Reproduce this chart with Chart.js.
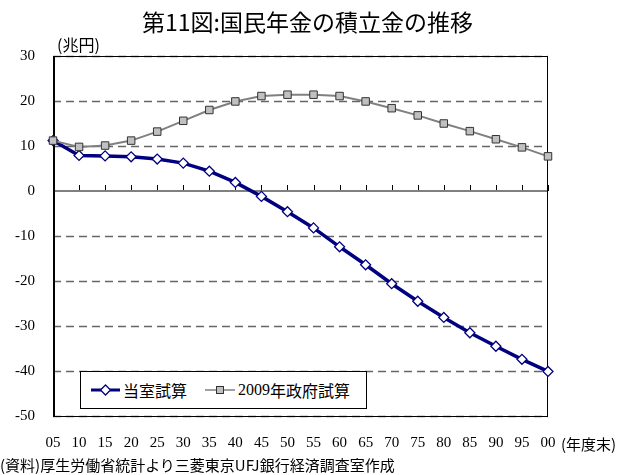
<!DOCTYPE html>
<html>
<head>
<meta charset="utf-8">
<script src="https://cdn.jsdelivr.net/npm/chart.js@4.4.0/dist/chart.umd.min.js"></script>
<style>
body { margin: 0; background: #fff; }
#wrap { position: relative; width: 629px; height: 475px; font-family: "Noto Sans CJK JP", sans-serif; color: #000; }
#title { position: absolute; left: 0; width: 615px; top: 10px; text-align: center; font-size: 23px; line-height: 1; }
#unit { position: absolute; left: 57px; top: 36px; font-size: 16px; line-height: 1; }
#xunit { position: absolute; left: 561px; top: 436px; font-size: 15px; line-height: 1; }
#source { position: absolute; left: 0; top: 457px; font-size: 15px; line-height: 1; }
#legend { position: absolute; left: 80px; top: 371px; width: 285px; height: 36px; border: 1px solid #000; background: #fff;
  display: flex; align-items: center; font-size: 16px; }
#legend span { display: flex; align-items: center; }
#legend svg { margin-right: 3px; }
.num { font-family: "Liberation Serif", Tinos, "Times New Roman", serif; }
</style>
</head>
<body>
<div id="wrap">
  <canvas id="chart" width="629" height="475"></canvas>
  <div id="title">第11図:国民年金の積立金の推移</div>
  <div id="unit">(兆円)</div>
  <div id="xunit">(年度末)</div>
  <div id="source">(資料)厚生労働省統計より三菱東京UFJ銀行経済調査室作成</div>
  <div id="legend">
    <span style="margin-left:10px"><svg width="29" height="12"><line x1="0" y1="6" x2="29" y2="6" stroke="#000080" stroke-width="3"/><polygon points="14.5,1 19.5,6 14.5,11 9.5,6" fill="#fff" stroke="#000080" stroke-width="1.3"/></svg>当室試算</span>
    <span style="margin-left:18px"><svg width="30" height="12"><line x1="0" y1="6" x2="30" y2="6" stroke="#808080" stroke-width="1.5"/><rect x="11.5" y="2.5" width="7" height="7" fill="#c0c0c0" stroke="#333" stroke-width="1"/></svg><span class="num">2009</span>年政府試算</span>
  </div>
</div>
<script>
const years = ['05', '10', '15', '20', '25', '30', '35', '40', '45', '50', '55', '60', '65', '70', '75', '80', '85', '90', '95', '00'];
const toushitsu = [11.2, 7.9, 7.8, 7.6, 7.1, 6.2, 4.4, 1.9, -1.2, -4.6, -8.2, -12.4, -16.4, -20.6, -24.5, -28.1, -31.5, -34.5, -37.4, -40.1];
const seifu2009 = [11.2, 9.8, 10.1, 11.2, 13.2, 15.6, 18.0, 19.9, 21.1, 21.4, 21.4, 21.1, 19.9, 18.4, 16.8, 15.0, 13.3, 11.5, 9.7, 7.7];
const yTicks = [30, 20, 10, 0, -10, -20, -30, -40, -50];

const serif = "'Liberation Serif', Tinos, 'Times New Roman', serif";

// grid, zero line with ticks, frame
const framePlugin = {
    id: 'frame',
    beforeDatasetsDraw(chart) {
        const ctx = chart.ctx;
        const area = chart.chartArea;
        const x = chart.scales.x;
        const y = chart.scales.y;
        ctx.save();
        ctx.strokeStyle = '#666';
        ctx.lineWidth = 1.5;
        ctx.setLineDash([8, 5]);
        for (let v of yTicks) {
            if (v === 0) continue;
            const py = Math.round(y.getPixelForValue(v)) + 0.5;
            ctx.beginPath();
            ctx.moveTo(area.left, py);
            ctx.lineTo(area.right, py);
            ctx.stroke();
        }
        ctx.setLineDash([]);
        const zy = Math.round(y.getPixelForValue(0));
        ctx.strokeStyle = '#000';
        ctx.lineWidth = 1;
        for (let i = 1; i < years.length; i++) {
            const px = Math.round(x.getPixelForValue(i)) + 0.5;
            ctx.beginPath();
            ctx.moveTo(px, zy - 6);
            ctx.lineTo(px, zy);
            ctx.stroke();
        }
        ctx.strokeStyle = '#808080';
        ctx.lineWidth = 2;
        ctx.beginPath();
        ctx.moveTo(area.left, zy);
        ctx.lineTo(area.right, zy);
        ctx.stroke();
        ctx.strokeStyle = '#000';
        ctx.lineWidth = 1;
        ctx.strokeRect(area.left + 0.5, Math.round(area.top) + 0.5, area.right - area.left - 1, Math.round(area.bottom - area.top));
        ctx.lineWidth = 2;
        ctx.beginPath();
        ctx.moveTo(area.left + 1, area.top);
        ctx.lineTo(area.left + 1, area.bottom + 1);
        ctx.stroke();
        ctx.restore();
    }
};

new Chart(document.getElementById('chart'), {
    type: 'line',
    data: {
        labels: years,
        datasets: [{
            label: '当室試算',
            data: toushitsu,
            borderColor: '#000080',
            borderWidth: 3.5,
            pointStyle: 'rectRot',
            pointRadius: 5,
            pointBackgroundColor: '#fff',
            pointBorderColor: '#000080',
            pointBorderWidth: 1.3,
            tension: 0,
            order: 1
        }, {
            label: '2009年政府試算',
            data: seifu2009,
            borderColor: '#808080',
            borderWidth: 2,
            pointStyle: 'rect',
            pointRadius: 5.3,
            pointBackgroundColor: '#c0c0c0',
            pointBorderColor: '#333',
            pointBorderWidth: 1,
            tension: 0,
            order: 0
        }]
    },
    options: {
        responsive: false,
        animation: false,
        layout: { padding: { top: 56, right: 81, left: 0, bottom: 0 } },
        plugins: { legend: { display: false }, tooltip: { enabled: false }, title: { display: false } },
        scales: {
            x: {
                type: 'category',
                offset: false,
                grid: { display: false },
                border: { display: false },
                ticks: { font: { family: serif, size: 15 }, color: '#000', maxRotation: 0, autoSkip: false, padding: 10 },
                afterFit: s => { s.height = 59; }
            },
            y: {
                min: -50,
                max: 30,
                grid: { display: false, drawTicks: false },
                border: { display: false },
                ticks: { stepSize: 10, font: { family: serif, size: 15 }, color: '#000', padding: 18, callback: v => String(v) },
                afterFit: s => { s.width = 53; }
            }
        }
    },
    plugins: [framePlugin]
});
</script>
</body>
</html>
